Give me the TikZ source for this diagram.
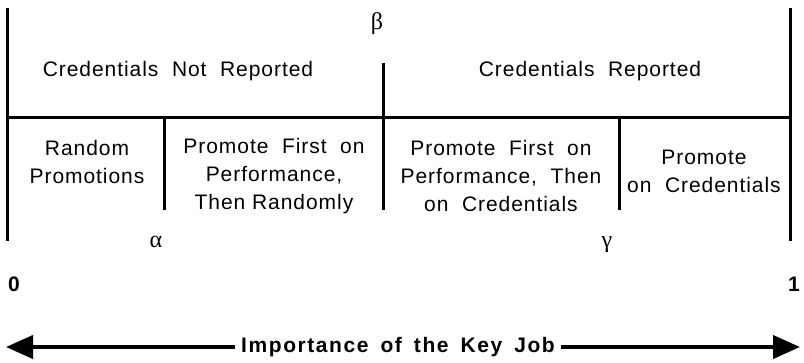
\documentclass[tikz,border=0pt]{standalone}
\usepackage{fontspec}
\setmainfont{Liberation Sans}[LetterSpace=4.5]
\newfontfamily\axisfont{Liberation Sans}[LetterSpace=7.5]
\newfontfamily\greekfont{Liberation Serif}
\usetikzlibrary{arrows.meta}
\begin{document}
\begin{tikzpicture}[x=1pt,y=-1pt,
  rule/.style={line width=3pt},
  lbl/.style={font=\fontsize{21}{28}\selectfont, align=center, inner sep=0pt},
  greek/.style={font=\fontsize{24}{26}\greekfont, inner sep=0pt},
  endlbl/.style={font=\fontsize{21}{22}\selectfont\bfseries, inner sep=0pt},
  axis/.style={line width=4pt, {Triangle[length=27pt,width=23pt]}-{Triangle[length=27pt,width=23pt]}}]
\useasboundingbox (0,0) rectangle (804,362);
% frame coordinates
\coordinate (LT) at (7,8);
\coordinate (LB) at (7,241);
\coordinate (RT) at (790,8);
\coordinate (RB) at (790,241);
\coordinate (MT) at (383,63);
\coordinate (MB) at (383,210);
\coordinate (HL) at (7,117);
\coordinate (HR) at (790,117);
\coordinate (AT) at (164,117);
\coordinate (AB) at (164,210);
\coordinate (GT) at (619,117);
\coordinate (GB) at (619,210);
\draw[rule] (LT) -- (LB);
\draw[rule] (RT) -- (RB);
\draw[rule] (MT) -- (MB);
\draw[rule] (HL) -- (HR);
\draw[rule] (AT) -- (AB);
\draw[rule] (GT) -- (GB);
% labels
\node[greek] (beta) at (377,24) {β};
\node[greek] (alpha) at (156,242) {α};
\node[greek] (gamma) at (607,245) {γ};
\node[endlbl] (zero) at (14,284) {0};
\node[endlbl] (one) at (794,284) {1};
\node[lbl] (cnr) at (178,71) {Credentials\ \ Not\ \ Reported};
\node[lbl] (cr) at (590,71) {Credentials\ \ Reported};
\node[lbl] (rp) at (87,162) {Random\\Promotions};
\node[lbl] (pfr) at (274,176) {Promote\ \ First\ \ on\\Performance,\\Then\ Randomly};
\node[lbl] (pfc) at (501,176) {Promote\ \ First\ \ on\\Performance,\ \ Then\\on\ \ Credentials};
\node[lbl] (pc) at (704,171) {Promote\\on\ \ Credentials};
% axis
\coordinate (AL) at (6,347);
\coordinate (AR) at (800,347);
\draw[axis] (AL) -- (AR);
\node[font=\fontsize{21}{23}\axisfont\bfseries, inner xsep=6pt, inner ysep=4pt, fill=white] (imp) at (398,347) {Importance\hspace{12pt}of\hspace{12pt}the\hspace{12pt}Key\hspace{12pt}Job};
\end{tikzpicture}
\end{document}
